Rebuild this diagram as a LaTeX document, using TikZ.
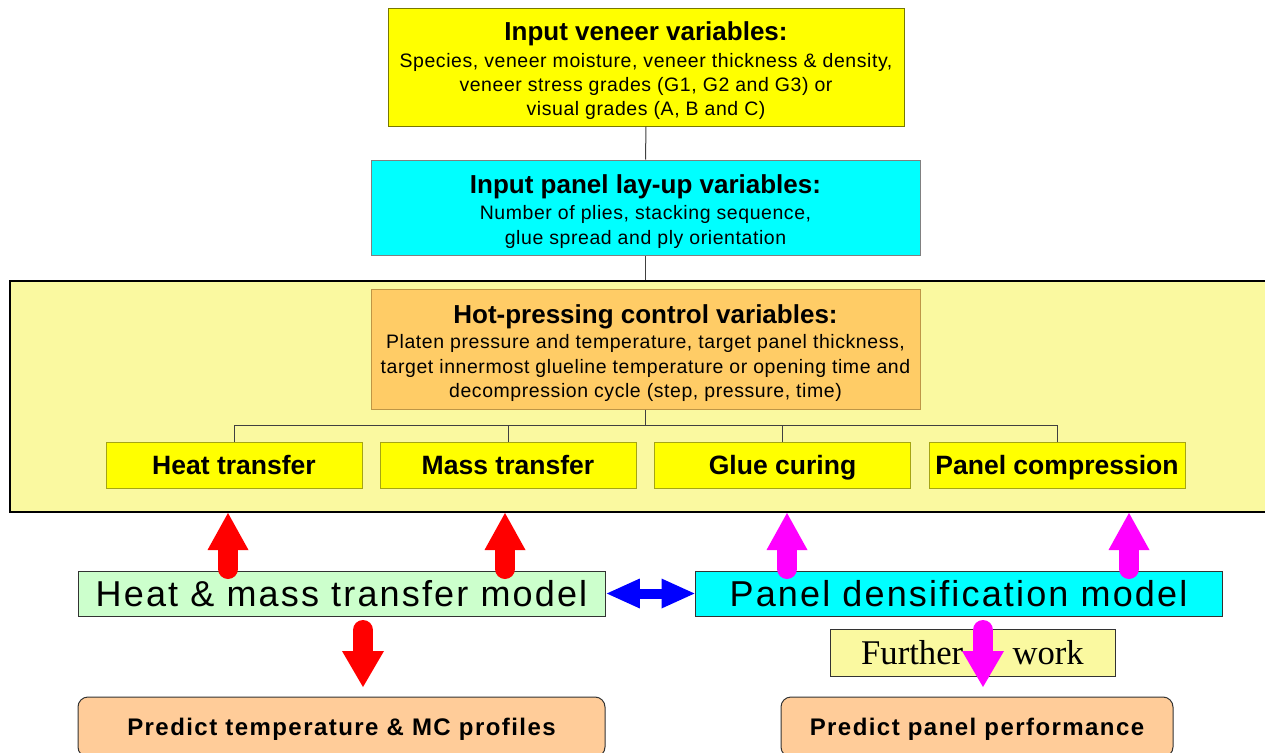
\documentclass[tikz,border=0pt]{standalone}
\usepackage{fontspec}
\setmainfont{Liberation Sans}
\newfontfamily\serifw{Liberation Serif}
\newfontfamily\bodyf[LetterSpace=3]{Liberation Sans}
\newfontfamily\modelf[LetterSpace=6]{Liberation Sans}
\newfontfamily\predf[LetterSpace=6]{Liberation Sans}
\newcommand\titfont{\normalfont\fontsize{19.5pt}{19.5pt}\bfseries\selectfont}
\usetikzlibrary{arrows.meta}
\definecolor{yel}{RGB}{255,255,0}
\definecolor{cyn}{RGB}{0,255,255}
\definecolor{pale}{RGB}{250,249,160}
\definecolor{hotc}{RGB}{255,204,102}
\definecolor{grn}{RGB}{204,255,204}
\definecolor{peach}{RGB}{255,204,153}
\definecolor{olive}{RGB}{120,120,0}
\definecolor{hotb}{RGB}{190,150,70}
\definecolor{yelb}{RGB}{165,165,20}
\definecolor{conc}{RGB}{64,64,64}
\definecolor{redc}{RGB}{255,0,0}
\definecolor{magc}{RGB}{255,0,255}
\definecolor{bluc}{RGB}{0,0,255}
\begin{document}
\begin{tikzpicture}[x=0.75pt,y=-0.75pt,
  box/.style={draw, line width=0.75pt, inner sep=0pt},
  txt/.style={inner sep=0pt, align=center, anchor=north},
  lab/.style={box, fill=yel, draw=yelb, minimum width=192pt, minimum height=34.5pt,
    font=\fontsize{19.9pt}{20pt}\bfseries\selectfont, text height=14.25pt, text depth=0pt},
  model/.style={box, draw=black!80, minimum width=395.25pt, minimum height=33.75pt,
    font=\fontsize{27pt}{27pt}\modelf, text height=19.5pt, text depth=0pt},
  pred/.style={box, draw=black!80, fill=peach, rounded corners=7.5pt, minimum height=45pt,
    font=\fontsize{18pt}{18pt}\predf\bfseries, text height=12.75pt, text depth=0pt},
  conn/.style={draw=conc, line width=0.75pt},
  fatup/.style={line width=15pt, line cap=round, -{Triangle[width=30.75pt,length=27.75pt,line width=0pt]}},
  fatdn/.style={line width=15pt, line cap=round, -{Triangle[width=31.5pt,length=27pt,line width=0pt]}}
]
\useasboundingbox (0,0) rectangle (1265,753);
\fill[white] (0,0) rectangle (1265,753);

% big background box
\node[box, draw=black, line width=1pt, fill=pale, minimum width=948.75pt, minimum height=173.25pt] (big) at (642.5,396.5) {};

% top box
\node[box, fill=yel, draw=olive, minimum width=387pt, minimum height=88.5pt] (top) at (646,67) {};
\node[txt, font=\fontsize{14.6pt}{18pt}\bodyf] (toptxt) at (646,21.5)
  {{\titfont Input veneer variables:}\\[2.25pt]
   Species, veneer moisture, veneer thickness \& density,\\
   veneer stress grades (G1, G2 and G3) or\\
   visual grades (A, B and C)};

% panel box
\node[box, fill=cyn, draw=black!50, minimum width=411.75pt, minimum height=71.25pt] (panel) at (645.5,207.5) {};
\node[txt, font=\fontsize{14.6pt}{18.75pt}\bodyf] (paneltxt) at (645.5,174.5)
  {{\titfont Input panel lay-up variables:}\\[0.75pt]
   Number of plies, stacking sequence,\\
   glue spread and ply orientation};

% hot-pressing box
\node[box, fill=hotc, draw=hotb, minimum width=411.75pt, minimum height=90pt] (hot) at (645.5,349) {};
\node[txt, font=\fontsize{14.6pt}{18.375pt}\bodyf] (hottxt) at (645.5,304.5)
  {{\titfont Hot-pressing control variables:}\\[0.375pt]
   Platen pressure and temperature, target panel thickness,\\
   target innermost glueline temperature or opening time and\\
   decompression cycle (step, pressure, time)};

% four process boxes
\node[lab] (heat) at (234,465) {Heat transfer};
\node[lab] (mass) at (508,465) {Mass transfer};
\node[lab] (glue) at (782.5,465) {Glue curing};
\node[lab] (comp) at (1057,465) {Panel compression};

% connectors
\coordinate (bus) at (646,425);
\draw[conn] (top.south) -- (panel.north);
\draw[conn] (panel.south) -- (panel.south |- big.north);
\draw[conn] (hot.south) -- (hot.south |- bus);
\draw[conn] (heat.north) -- (heat.north |- bus) -- (comp.north |- bus) -- (comp.north);
\draw[conn] (mass.north) -- (mass.north |- bus);
\draw[conn] (glue.north) -- (glue.north |- bus);

% models
\node[model, fill=grn] (hm) at (341.5,593.5) {Heat \& mass transfer model};
\node[model, fill=cyn] (pd) at (958.5,593.5) {Panel densification model};

% further work
\node[box, fill=pale, draw=black!80, minimum width=213.75pt, minimum height=35.25pt,
  font=\fontsize{26pt}{26pt}\serifw, text height=17.5pt, text depth=0pt] (fw) at (972.5,652.5)
  {Further\hspace{37pt}work\hspace{5.5pt}};

% predict boxes
\node[pred, minimum width=395.25pt] (pt) at (341.5,727) {Predict temperature \& MC profiles};
\node[pred, minimum width=294pt] (pp) at (977,727) {Predict panel performance};

% fat arrows
\coordinate (r1s) at (228,569); \coordinate (r1e) at (228,513);
\coordinate (r2s) at (505,569); \coordinate (r2e) at (505,513);
\coordinate (m1s) at (787,569); \coordinate (m1e) at (787,513);
\coordinate (m2s) at (1129,569); \coordinate (m2e) at (1129,513);
\coordinate (rds) at (363,630); \coordinate (rde) at (363,687);
\coordinate (mds) at (983,630); \coordinate (mde) at (983,687);
\draw[fatup, redc] (r1s) -- (r1e);
\draw[fatup, redc] (r2s) -- (r2e);
\draw[fatup, magc] (m1s) -- (m1e);
\draw[fatup, magc] (m2s) -- (m2e);
\draw[fatdn, redc] (rds) -- (rde);
\draw[fatdn, magc] (mds) -- (mde);
\draw[bluc, line width=7.5pt, {Triangle[width=22.5pt,length=24.75pt,line width=0pt]}-{Triangle[width=22.5pt,length=24.75pt,line width=0pt]}] ([xshift=1pt]hm.east) -- (pd.west);
\end{tikzpicture}
\end{document}
